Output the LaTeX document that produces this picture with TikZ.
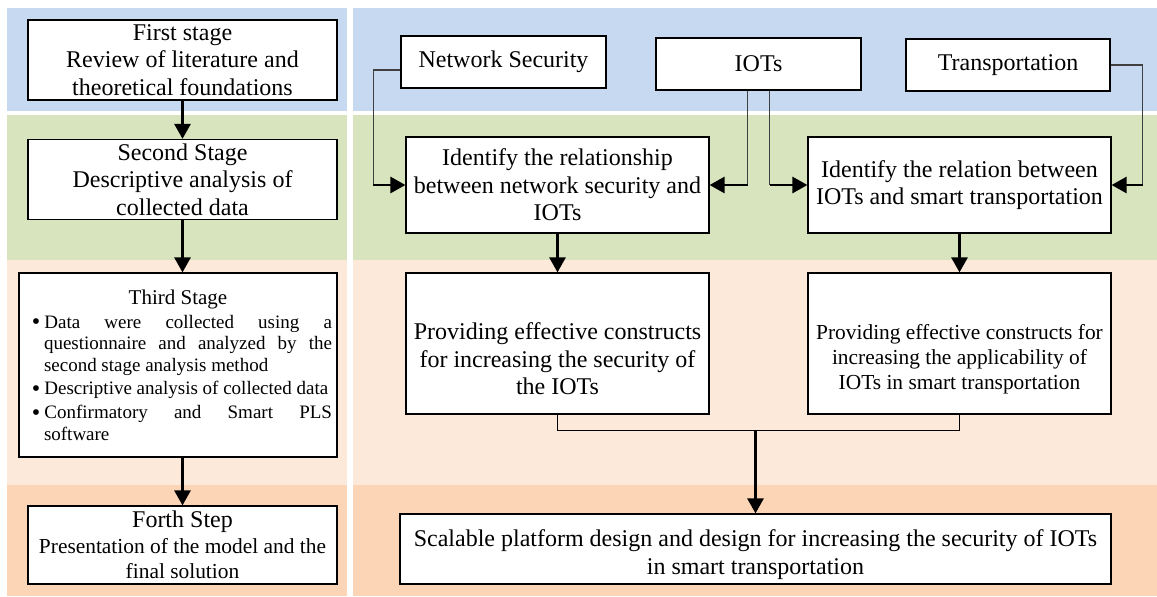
\documentclass[tikz,border=0pt]{standalone}
\usepackage{fontspec}
\setmainfont{Liberation Serif}
\usetikzlibrary{arrows.meta}

\definecolor{bandblue}{HTML}{C6D9F1}
\definecolor{bandgreen}{HTML}{D7E4BD}
\definecolor{bandpeach}{HTML}{FDE9D9}
\definecolor{bandorange}{HTML}{FBD5B5}

\begin{document}
\begin{tikzpicture}[x=0.5pt, y=-0.5pt,
    box/.style={draw=black, line width=0.6pt, fill=white, align=center, inner sep=2pt,
        font=\fontsize{12}{13.8}\selectfont},
    arr/.style={line width=1.4pt, -{Triangle[length=7.5pt,width=8pt]}},
    link/.style={line width=0.6pt, draw=black!75}]
    \useasboundingbox (0,0) rectangle (1157,596);

    % Bands of the left column
    \fill[bandblue] (7,8) rectangle (347,111);
    \fill[bandgreen] (7,115) rectangle (347,260);
    \fill[bandpeach] (7,260) rectangle (347,485);
    \fill[bandorange] (7,485) rectangle (347,596);

    % Bands of the right column
    \fill[bandblue] (353,8) rectangle (1157,111);
    \fill[bandgreen] (353,115) rectangle (1157,260);
    \fill[bandpeach] (353,260) rectangle (1157,485);
    \fill[bandorange] (353,485) rectangle (1157,596);

    % Stages (left column)
    \node[box, minimum width=154.5pt, minimum height=40pt] (first) at (182.5,60)
        {First stage\\Review of literature and\\theoretical foundations};
    \node[box, minimum width=154.5pt, minimum height=39.5pt] (second) at (182.5,179.5)
        {Second Stage\\Descriptive analysis of\\collected data};
    \node[box, text width=154pt, inner xsep=2.5pt, minimum height=92pt, align=justify,
        font=\fontsize{9.5}{10.75}\selectfont] (third) at (178,365)
        {{\fontsize{10.5}{12}\selectfont\centering Third Stage\par}
        \begin{list}{\raisebox{-0.6pt}{\fontsize{12}{10}\selectfont\textbullet}}{\setlength{\leftmargin}{10pt}\setlength{\labelwidth}{4pt}%
            \setlength{\labelsep}{2pt}\setlength{\itemsep}{1.2pt}\setlength{\parsep}{0pt}%
            \setlength{\topsep}{1.2pt}\setlength{\partopsep}{0pt}}
        \item Data were collected using a\linebreak questionnaire and analyzed by the\linebreak second stage analysis method
        \item Descriptive analysis of collected data
        \item Confirmatory and Smart PLS\linebreak software
        \end{list}};
    \node[box, minimum width=154.5pt, minimum height=39pt] (forth) at (182.5,545)
        {Forth Step\\[-1pt]{\fontsize{10.7}{12.5}\selectfont Presentation of the model and the}\\[-1pt]
        {\fontsize{10.7}{12.5}\selectfont final solution}};

    % Inputs (top of right column)
    \node[box, minimum width=102.5pt, minimum height=26pt] (ns) at (503.5,62) {Network Security};
    \node[box, minimum width=102.5pt, minimum height=26pt] (iot) at (758.5,64) {IOTs};
    \node[box, minimum width=102pt, minimum height=26pt] (tr) at (1008,65) {Transportation};

    % Relations
    \node[box, minimum width=151.5pt, minimum height=48pt] (idl) at (557.5,185)
        {Identify the relationship\\between network security and\\IOTs};
    \node[box, minimum width=151.5pt, minimum height=48pt] (idr) at (959.5,185)
        {Identify the relation between\\IOTs and smart transportation};

    % Constructs
    \node[box, minimum width=151.5pt, minimum height=70.5pt] (pl) at (557.5,343.5)
        {\rule{0pt}{24pt}Providing effective constructs\\for increasing the security of\\the IOTs};
    \node[box, minimum width=151.5pt, minimum height=70.5pt, font=\fontsize{10.7}{12.5}\selectfont] (pr) at (959.5,343.5)
        {\rule{0pt}{23pt}Providing effective constructs for\\increasing the applicability of\\IOTs in smart transportation};

    % Final platform
    \node[box, minimum width=355.5pt, minimum height=35pt, font=\fontsize{12}{14.2}\selectfont] (fin) at (755.5,549)
        {\rule{0pt}{14pt}Scalable platform design and design for increasing the security of IOTs\\in smart transportation};

    % Left column arrows
    \draw[arr] (first) -- (second);
    \draw[arr] (second.south) -- (second.south |- third.north);
    \draw[arr] (forth.north |- third.south) -- (forth.north);

    % Network Security into left relation
    \path (idl.west) ++(-32,0) coordinate (nsk);
    \draw[link] ([yshift=-4pt]ns.west) -| (nsk);
    \draw[arr] (nsk) -- (idl.west);

    % IOTs into both relations
    \path (iot.south) ++(-11,0) coordinate (iotl);
    \path (iot.south) ++(11,0) coordinate (iotr);
    \draw[link] (iotl) -- (iotl |- idl.east);
    \draw[arr] (iotl |- idl.east) -- (idl.east);
    \draw[link] (iotr) -- (iotr |- idr.west);
    \draw[arr] (iotr |- idr.west) -- (idr.west);

    % Transportation into right relation
    \path (idr.east) ++(31,0) coordinate (trk);
    \draw[link] (tr.east) -| (trk);
    \draw[arr] (trk) -- (idr.east);

    % Relations to constructs
    \draw[arr] (idl) -- (pl);
    \draw[arr] (idr) -- (pr);

    % Merge into the final box
    \path (pl.south) ++(0,16) coordinate (mj);
    \draw[line width=0.6pt] (pl.south) -- (mj) -| (pr.south);
    \draw[arr] (mj -| fin.north) -- (fin.north);
\end{tikzpicture}
\end{document}
